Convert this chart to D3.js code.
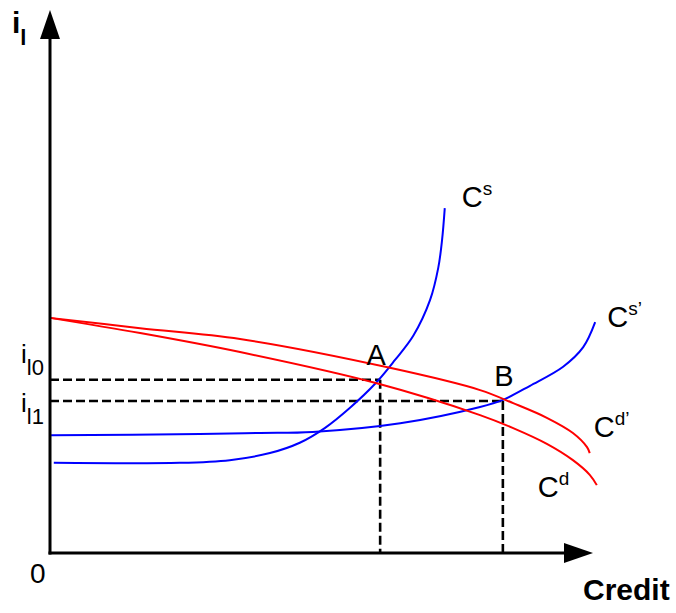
<!DOCTYPE html>
<html><head><meta charset="utf-8">
<script src="https://cdn.jsdelivr.net/npm/d3@7"></script>
<style>body{margin:0;background:#fff}svg{display:block}</style>
</head><body><svg id="c" width="676" height="613"></svg>
<script>
// ---- data (credit on x, loan rate i_l on y, arbitrary units 0-100) ----
const csCredit  = [0.7, 23.9, 33.1, 40.5, 46.0, 50.6, 55.2, 60.0, 63.5, 66.9, 70.0, 71.5, 72.2, 72.7];
const csRate    = [16.6, 16.6, 17.1, 18.4, 20.3, 23.0, 26.7, 31.3, 35.5, 40.0, 46.6, 52.5, 57.6, 63.5];
const cs2Credit = [0.2, 27.6, 38.7, 48.4, 64.5, 79.2, 83.4, 88.4, 94.5, 98.2, 100.4];
const cs2Rate   = [21.7, 21.9, 22.1, 22.3, 23.9, 26.9, 28.2, 30.8, 34.3, 37.9, 42.5];
const cdCredit  = [0, 16.6, 35.0, 60.0, 79.2, 85.3, 91.5, 96.3, 99.4, 100.7];
const cdRate    = [43.3, 40.5, 37.0, 31.3, 25.4, 23.0, 20.1, 17.1, 14.4, 12.5];
const cd2Credit = [0, 16.6, 35.0, 62.6, 79.2, 85.3, 91.5, 96.3, 98.9, 99.4];
const cd2Rate   = [43.3, 41.4, 39.4, 34.1, 30.0, 27.6, 24.9, 22.1, 19.5, 18.4];
const eqNames   = ["A", "B"];
const eqCredit  = [60.8, 83.4];
const eqRate    = [31.9, 28.0];
const rateLabels = ["l0", "l1"];

const x = d3.scaleLinear().domain([0, 100]).range([50, 593]);
const y = d3.scaleLinear().domain([0, 100]).range([553, 10]);
const svg = d3.select("#c");
const FONT = "'Liberation Sans', Arial, Helvetica, sans-serif";

const zip = (a, b) => a.map((v, i) => [v, b[i]]);
const line = d3.line().x(d => x(d[0])).y(d => y(d[1])).curve(d3.curveCatmullRom.alpha(0.5));

// dashed guides
const eq = eqNames.map((n, i) => ({name: n, c: eqCredit[i], r: eqRate[i], sub: rateLabels[i]}));
const g = svg.append("g").attr("stroke", "#000").attr("stroke-width", 2.6).attr("stroke-dasharray", "9,4").attr("fill", "none");
eq.forEach(e => {
  g.append("line").attr("x1", x(0)).attr("x2", x(e.c)).attr("y1", y(e.r)).attr("y2", y(e.r));
  g.append("line").attr("x1", x(e.c)).attr("x2", x(e.c)).attr("y1", y(e.r)).attr("y2", y(0));
});

// curves
const curves = [
  {name: "s",  pts: zip(csCredit, csRate),   color: "#0000ff", dx: 17,  dy: -1},
  {name: "s\u2019", pts: zip(cs2Credit, cs2Rate), color: "#0000ff", dx: 12, dy: 5},
  {name: "d",  pts: zip(cdCredit, cdRate),   color: "#ff0000", dx: -59, dy: 12},
  {name: "d\u2019", pts: zip(cd2Credit, cd2Rate), color: "#ff0000", dx: 4, dy: -16}
];
curves.forEach(cv => {
  svg.append("path").attr("d", line(cv.pts)).attr("fill", "none")
    .attr("stroke", cv.color).attr("stroke-width", 2);
  const end = cv.pts[cv.pts.length - 1];
  const t = svg.append("text").attr("x", x(end[0]) + cv.dx).attr("y", y(end[1]) + cv.dy)
    .attr("font-family", FONT).attr("font-size", 29).attr("fill", "#000");
  t.append("tspan").text("C");
  t.append("tspan").attr("dy", -12).attr("font-size", 19).text(cv.name);
});

// axes
const ax = svg.append("g").attr("stroke", "#000").attr("stroke-width", 3).attr("fill", "none");
ax.append("line").attr("x1", x(0)).attr("x2", x(0)).attr("y1", y(0) + 1.5).attr("y2", y(100) + 29);
ax.append("line").attr("x1", x(0) - 1.5).attr("x2", x(100) - 29).attr("y1", y(0)).attr("y2", y(0));
svg.append("path").attr("fill", "#000")
  .attr("d", `M${x(0)},${y(100)}L${x(0) - 10},${y(100) + 29}L${x(0) + 10},${y(100) + 29}Z`);
svg.append("path").attr("fill", "#000")
  .attr("d", `M${x(100)},${y(0)}L${x(100) - 29},${y(0) - 10}L${x(100) - 29},${y(0) + 10}Z`);

// axis titles
const yt = svg.append("text").attr("x", 12).attr("y", 33).attr("font-family", FONT)
  .attr("font-weight", "bold").attr("font-size", 30);
yt.append("tspan").text("i");
yt.append("tspan").attr("dy", 12).attr("font-size", 22).text("l");
svg.append("text").attr("x", 583).attr("y", 600).attr("font-family", FONT)
  .attr("font-weight", "bold").attr("font-size", 30).text("Credit");
svg.append("text").attr("x", 30).attr("y", 583).attr("font-family", FONT)
  .attr("font-size", 28).text("0");

// equilibrium labels and rate labels
eq.forEach((e, i) => {
  svg.append("text").attr("x", x(e.c) + (i === 0 ? -4 : 1)).attr("y", y(e.r) - 15)
    .attr("text-anchor", "middle").attr("font-family", FONT).attr("font-size", 29).text(e.name);
  const t = svg.append("text").attr("x", 21).attr("y", y(e.r) + (i === 0 ? -17 : 11))
    .attr("font-family", FONT).attr("font-size", 26);
  t.append("tspan").text("i");
  t.append("tspan").attr("dy", 12).attr("font-size", 22).text(e.sub);
});
</script></body></html>
